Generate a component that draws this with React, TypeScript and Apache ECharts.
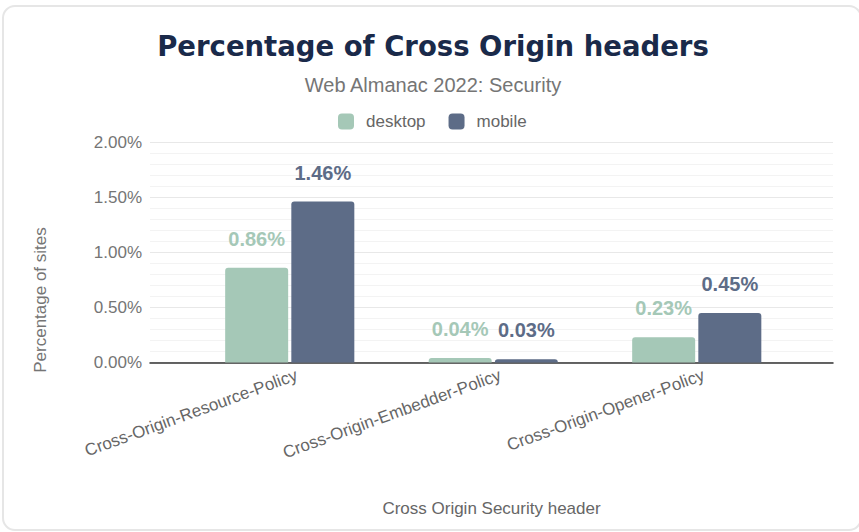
import React, { useEffect, useRef } from "react";
import * as echarts from "echarts";

const categories = [
  "Cross-Origin-Resource-Policy",
  "Cross-Origin-Embedder-Policy",
  "Cross-Origin-Opener-Policy",
];
const desktopValues = [0.86, 0.04, 0.23];
const mobileValues = [1.46, 0.03, 0.45];
const seriesNames = ["desktop", "mobile"];
const yTicks = { min: 0, max: 2, interval: 0.5 };

const TITLE = "Percentage of Cross Origin headers";
const SUBTITLE = "Web Almanac 2022: Security";
const X_NAME = "Cross Origin Security header";
const Y_NAME = "Percentage of sites";

const DESKTOP = "#a5c8b7";
const MOBILE = "#5d6c87";
const FONT = "'Liberation Sans', Arial, Helvetica, sans-serif";

export default function App() {
  const ref = useRef<HTMLDivElement>(null);
  useEffect(() => {
    if (!ref.current) return;
    const chart = echarts.init(ref.current, undefined, { renderer: "svg" });
    const labelFmt = (p: any) => p.value.toFixed(2) + "%";
    const hiddenY = (gridIndex: number) => ({
      type: "value",
      gridIndex,
      min: yTicks.min,
      max: yTicks.max,
      interval: yTicks.interval,
      show: false,
      splitLine: { show: false },
    });
    chart.setOption({
      animation: false,
      backgroundColor: "#ffffff",
      textStyle: { fontFamily: FONT },
      title: [
        {
          text: TITLE,
          left: 428,
          top: 27,
          textAlign: "center",
          textStyle: {
            fontFamily: "'DejaVu Sans', sans-serif",
            fontWeight: 900,
            fontSize: 27.5,
            color: "#1a2a4a",
          },
        },
        {
          text: SUBTITLE,
          left: 428,
          top: 70,
          textAlign: "center",
          textStyle: { fontFamily: FONT, fontWeight: "normal", fontSize: 20, color: "#757575" },
        },
      ],
      legend: {
        top: 108,
        left: 333,
        itemWidth: 16,
        itemHeight: 16,
        itemGap: 23,
        icon: "roundRect",
        data: seriesNames,
        textStyle: { fontFamily: FONT, fontSize: 17, color: "#666666", padding: [0, 0, 0, 7] },
      },
      graphic: [
        {
          type: "rect",
          z: -10,
          shape: { x: 3, y: 6, width: 858, height: 524, r: 12 },
          style: { fill: "#ffffff", stroke: "#e6e6e6", lineWidth: 2 },
        },
        {
          type: "text",
          x: 40,
          y: 300,
          rotation: Math.PI / 2,
          style: {
            text: Y_NAME,
            fontFamily: FONT,
            fontSize: 17,
            fill: "#757575",
            align: "center",
            verticalAlign: "middle",
          },
        },
      ],
      grid: [
        { left: 150, right: 26, top: 142, bottom: 169.5 },
        { left: 188, right: 60.5, top: 142, bottom: 169.5 },
        { left: 195, right: 53.5, top: 142, bottom: 169.5 },
      ],
      xAxis: [
        {
          type: "category",
          gridIndex: 0,
          data: categories,
          axisLine: { show: true, lineStyle: { color: "#333333", width: 1.5 } },
          axisTick: { show: false },
          axisLabel: { show: false },
          name: X_NAME,
          nameLocation: "middle",
          nameGap: 137,
          nameTextStyle: { fontFamily: FONT, fontSize: 17, color: "#666666" },
        },
        {
          type: "category",
          gridIndex: 1,
          data: categories,
          axisLine: { show: false },
          axisTick: { show: false },
          axisLabel: { show: false },
        },
        {
          type: "category",
          gridIndex: 2,
          data: categories,
          axisLine: { show: false },
          axisTick: { show: false },
          axisLabel: {
            rotate: 20,
            margin: 12,
            fontFamily: FONT,
            fontSize: 17,
            color: "#666666",
          },
        },
      ],
      yAxis: [
        {
          type: "value",
          gridIndex: 0,
          min: yTicks.min,
          max: yTicks.max,
          interval: yTicks.interval,
          axisLine: { show: false },
          axisTick: { show: false },
          axisLabel: {
            margin: 8,
            fontFamily: FONT,
            fontSize: 17,
            color: "#757575",
            formatter: (v: number) => v.toFixed(2) + "%",
          },
          splitLine: { lineStyle: { color: "#e8e8e8", width: 1 } },
          minorTick: { show: false, splitNumber: 5 },
          minorSplitLine: { show: true, lineStyle: { color: "#f3f3f3", width: 1 } },
        },
        hiddenY(1),
        hiddenY(2),
      ],
      series: [
        {
          name: seriesNames[0],
          type: "bar",
          xAxisIndex: 1,
          yAxisIndex: 1,
          data: desktopValues,
          barWidth: 63,
          barGap: "5%",
          itemStyle: { color: DESKTOP, borderRadius: [3, 3, 0, 0] },
          label: {
            show: true,
            position: "top",
            distance: 19,
            formatter: labelFmt,
            fontFamily: FONT,
            fontWeight: "bold",
            fontSize: 20,
            color: DESKTOP,
          },
        },
        {
          name: seriesNames[1],
          type: "bar",
          xAxisIndex: 1,
          yAxisIndex: 1,
          data: mobileValues,
          barWidth: 63,
          barGap: "5%",
          itemStyle: { color: MOBILE, borderRadius: [3, 3, 0, 0] },
          label: {
            show: true,
            position: "top",
            distance: 19,
            formatter: labelFmt,
            fontFamily: FONT,
            fontWeight: "bold",
            fontSize: 20,
            color: MOBILE,
          },
        },
      ],
    });
    return () => chart.dispose();
  }, []);
  return (
    <div
      ref={ref}
      style={{ position: "fixed", left: 0, top: 0, width: 859, height: 532 }}
    />
  );
}
